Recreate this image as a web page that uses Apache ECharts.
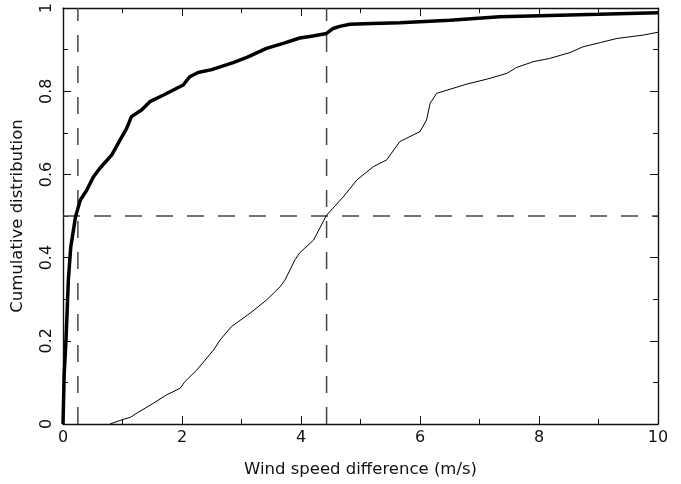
<!DOCTYPE html>
<html>
<head>
<meta charset="utf-8">
<script src="https://cdn.jsdelivr.net/npm/echarts@6/dist/echarts.min.js"></script>
<style>
  html, body { margin: 0; padding: 0; background: #fff; }
  #chart { width: 681px; height: 484px; }
</style>
</head>
<body>
<div id="chart"></div>
<script>
// thick curve (x, cumulative fraction)
var thickX = [0, 0.02, 0.05, 0.09, 0.13, 0.21, 0.29, 0.40, 0.51, 0.62, 0.82, 0.96, 1.07, 1.15, 1.32, 1.46, 1.69, 2.02, 2.13, 2.27, 2.50, 2.86, 3.10, 3.42, 3.70, 3.98, 4.20, 4.43, 4.54, 4.65, 4.82, 5.2, 5.66, 6.50, 7.34, 8.35, 9.0, 10];
var thickY = [0, 0.12, 0.2, 0.346, 0.425, 0.498, 0.538, 0.5625, 0.594, 0.615, 0.647, 0.683, 0.711, 0.739, 0.755, 0.775, 0.791, 0.815, 0.835, 0.845, 0.852, 0.869, 0.882, 0.903, 0.915, 0.928, 0.933, 0.939, 0.951, 0.956, 0.961, 0.963, 0.965, 0.971, 0.979, 0.983, 0.985, 0.989];
// thin curve
var thinX = [0.79, 1.01, 1.13, 1.24, 1.52, 1.74, 1.97, 2.05, 2.25, 2.53, 2.64, 2.83, 3.14, 3.42, 3.65, 3.73, 3.90, 3.98, 4.21, 4.43, 4.71, 4.94, 5.22, 5.44, 5.66, 6.00, 6.11, 6.17, 6.28, 6.78, 7.12, 7.46, 7.62, 7.90, 8.18, 8.52, 8.74, 9.03, 9.31, 9.75, 10];
var thinY = [0, 0.011, 0.016, 0.026, 0.050, 0.070, 0.086, 0.102, 0.130, 0.178, 0.202, 0.234, 0.266, 0.298, 0.330, 0.346, 0.395, 0.412, 0.442, 0.502, 0.546, 0.587, 0.619, 0.635, 0.679, 0.703, 0.731, 0.771, 0.795, 0.817, 0.829, 0.843, 0.857, 0.871, 0.879, 0.893, 0.907, 0.917, 0.927, 0.935, 0.942];
// reference lines
var medianThick = 0.25;
var medianThin = 4.43;
var halfLevel = 0.5;
var xTicks = ['0', '2', '4', '6', '8', '10'];
var yTicks = ['0', '0.2', '0.4', '0.6', '0.8', '1'];

function pairs(xs, ys) {
  return xs.map(function (x, i) { return [x, ys[i]]; });
}

var font = 'DejaVu Sans';

// box axis: line, inward major + minor ticks, no labels by default
function axis(pos, max, step) {
  return {
    type: 'value', position: pos, min: 0, max: max, interval: step,
    axisLine: { show: true, onZero: false, lineStyle: { color: '#111', width: 1.4 } },
    axisTick: { show: true, inside: true, length: 8, lineStyle: { color: '#111', width: 1 } },
    minorTick: { show: true, splitNumber: 2, length: 5, lineStyle: { color: '#111', width: 1 } },
    axisLabel: { show: false },
    splitLine: { show: false }
  };
}

var xMain = axis('bottom', 10, 2);
xMain.name = 'Wind speed difference (m/s)';
xMain.nameLocation = 'middle';
xMain.nameGap = 37;
xMain.nameTextStyle = { fontFamily: font, fontSize: 16.5, color: '#111' };
xMain.axisLabel = {
  show: true, fontFamily: font, fontSize: 16, color: '#111', margin: 6,
  formatter: function (v) { return xTicks[Math.round(v / 2)]; }
};

var yMain = axis('left', 1, 0.2);
yMain.name = 'Cumulative distribution';
yMain.nameLocation = 'middle';
yMain.nameGap = 37;
yMain.nameTextStyle = { fontFamily: font, fontSize: 16.5, color: '#111' };
yMain.axisLabel = {
  show: true, fontFamily: font, fontSize: 16, color: '#111', rotate: 90, margin: 8,
  formatter: function (v) { return yTicks[Math.round(v / 0.2)]; }
};

var option = {
  backgroundColor: '#fff',
  animation: false,
  grid: { left: 63, right: 23, top: 8, bottom: 60 },
  xAxis: [xMain, axis('top', 10, 2)],
  yAxis: [yMain, axis('right', 1, 0.2)],
  series: [
    {
      type: 'line', symbol: 'none', silent: true,
      lineStyle: { color: '#444', width: 1.5, type: [17, 14] },
      data: [[medianThick, 0], [medianThick, 1]]
    },
    {
      type: 'line', symbol: 'none', silent: true,
      lineStyle: { color: '#444', width: 1.5, type: [17, 14] },
      data: [[medianThin, 0], [medianThin, 1]]
    },
    {
      type: 'line', symbol: 'none', silent: true,
      lineStyle: { color: '#444', width: 1.5, type: [17, 14] },
      data: [[0, halfLevel], [10, halfLevel]]
    },
    {
      type: 'line', symbol: 'none',
      lineStyle: { color: '#000', width: 1 },
      data: pairs(thinX, thinY)
    },
    {
      type: 'line', symbol: 'none',
      lineStyle: { color: '#000', width: 3.5 },
      data: pairs(thickX, thickY)
    }
  ]
};

var myChart = echarts.init(document.getElementById('chart'));
myChart.setOption(option);
</script>
</body>
</html>
